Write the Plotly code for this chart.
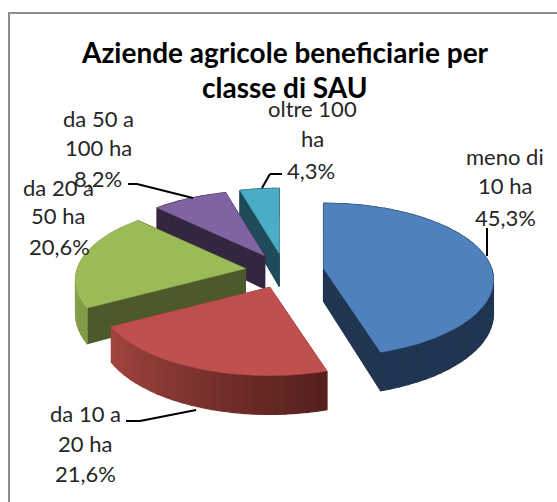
import math
import plotly.graph_objects as go

# --- data ---
categories = ["meno di 10 ha", "da 10 a 20 ha", "da 20 a 50 ha", "da 50 a 100 ha", "oltre 100 ha"]
values = [45.3, 21.6, 20.6, 8.2, 4.3]
value_labels = ["45,3%", "21,6%", "20,6%", "8,2%", "4,3%"]
label_lines = [["meno di", "10 ha", "45,3%"], ["da 10 a", "20 ha", "21,6%"], ["da 20 a", "50 ha", "20,6%"],
               ["da 50 a", "100 ha", "8,2%"], ["oltre 100", "ha", "4,3%"]]
title_lines = ["Aziende agricole beneficiarie per", "classe di SAU"]

# --- style and layout ---
W, H = 557, 502
top_colors = ["#4F81BD", "#C0504D", "#9BBB59", "#8064A2", "#4BACC6"]
cut_colors = ["#1F3552", "#8A3A37", "#4C5A2B", "#35263F", "#1F4B5A"]
rim_left = ["#1F3552", "#A64640", "#95B054", "#35263F", "#1F4B5A"]
rim_right = ["#1F3552", "#55201E", "#7F9A48", "#35263F", "#1F4B5A"]
CX, CY, RX, RY, K, PULL, DEPTH = 284.5, 271, 168, 75, 0.15, 0.235, 33
label_pos = [[(505, 156), (505, 185), (505, 217)], [(85, 413), (85, 443), (85, 473)], [(58, 187), (58, 215), (59, 246)],
             [(98, 118), (98, 147), (98, 178)], [(312, 108), (312, 138), (311, 170)]]
title_pos = [(285, 52), (285, 87)]
leaders = [[(487, 228), (487, 256)], [(126, 421), (140, 421), (196, 410)], [],
           [(128, 184), (137, 184), (193, 198)], [(282, 174), (270, 174), (262, 188)]]


def hex_mix(a, b, t):
    ca = [int(a[i:i + 2], 16) for i in (1, 3, 5)]
    cb = [int(b[i:i + 2], 16) for i in (1, 3, 5)]
    return "#" + "".join(f"{round(x + (y - x) * t):02x}" for x, y in zip(ca, cb))


def project(cx, cy, ang, r=1.0, drop=0.0):
    """Angle clockwise from the top of the pie, with a perspective scale toward the viewer."""
    a = math.radians(ang)
    X, Y = r * math.sin(a), -r * math.cos(a)
    s = 1 / (1 - K * Y)
    return cx + RX * X * s, cy + (RY * Y + drop) * s


def poly(xs, ys, color):
    return go.Scatter(x=xs, y=ys, mode="lines", fill="toself", fillcolor=color,
                      line=dict(color=color, width=1.2), hoverinfo="skip", showlegend=False)


# slice angles from the values
total = sum(values)
angles, start = [], 0.0
for v in values:
    sweep = v / total * 360
    angles.append((start, start + sweep))
    start += sweep

fig = go.Figure()
for i in (4, 3, 2, 0, 1):  # back to front
    a0, a1 = angles[i]
    mid = math.radians((a0 + a1) / 2)
    cx = CX + PULL * RX * math.sin(mid)
    cy = CY - PULL * RY * math.cos(mid)
    n = max(6, int((a1 - a0) / 3))
    arc = [a0 + (a1 - a0) * j / n for j in range(n + 1)]
    # cut faces
    for edge in (a0, a1):
        ex, ey = project(cx, cy, edge)
        bx, by = project(cx, cy, edge, drop=DEPTH)
        fig.add_trace(poly([cx, ex, bx, cx, cx], [cy, ey, by, cy + DEPTH, cy], cut_colors[i]))
    # outer wall, in strips so that it can shade along the arc
    for j in range(n):
        t = j / n
        p = [project(cx, cy, arc[j]), project(cx, cy, arc[j + 1]),
             project(cx, cy, arc[j + 1], drop=DEPTH), project(cx, cy, arc[j], drop=DEPTH)]
        p.append(p[0])
        fig.add_trace(poly([q[0] for q in p], [q[1] for q in p], hex_mix(rim_right[i], rim_left[i], t)))
    # top face
    pts = [(cx, cy)] + [project(cx, cy, a) for a in arc] + [(cx, cy)]
    fig.add_trace(go.Scatter(x=[q[0] for q in pts], y=[q[1] for q in pts], mode="lines", fill="toself",
                             fillcolor=top_colors[i], line=dict(color=top_colors[i], width=0.5),
                             name=categories[i], text=value_labels[i], hoverinfo="name+text", showlegend=False))

shapes = [
    dict(type="line", x0=9, x1=9, y0=13, y1=H, line=dict(color="#8C8C8C", width=2)),
    dict(type="line", x0=8, x1=W, y0=13, y1=13, line=dict(color="#8C8C8C", width=2)),
]
for path in leaders:
    for (x0, y0), (x1, y1) in zip(path, path[1:]):
        shapes.append(dict(type="line", x0=x0, y0=y0, x1=x1, y1=y1, line=dict(color="#000000", width=2)))

annotations = []
for lines, pos in zip(label_lines, label_pos):
    for txt, (x, y) in zip(lines, pos):
        annotations.append(dict(x=x, y=y, text=txt, showarrow=False, xanchor="center", yanchor="middle",
                                font=dict(family="Lato", size=22, color="#262626")))
for txt, (x, y) in zip(title_lines, title_pos):
    annotations.append(dict(x=x, y=y, text=f"<b>{txt}</b>", showarrow=False, xanchor="center", yanchor="middle",
                            font=dict(family="Lato", size=28, color="#000000")))

fig.update_layout(
    width=W, height=H, margin=dict(l=0, r=0, t=0, b=0), paper_bgcolor="#FFFFFF", plot_bgcolor="#FFFFFF",
    showlegend=False, shapes=shapes, annotations=annotations,
    xaxis=dict(range=[0, W], visible=False, fixedrange=True),
    yaxis=dict(range=[H, 0], visible=False, fixedrange=True),
)
fig.write_html("out.html", config={"displayModeBar": False},
               post_script="document.body.style.margin='0';document.documentElement.style.overflow='hidden';")
